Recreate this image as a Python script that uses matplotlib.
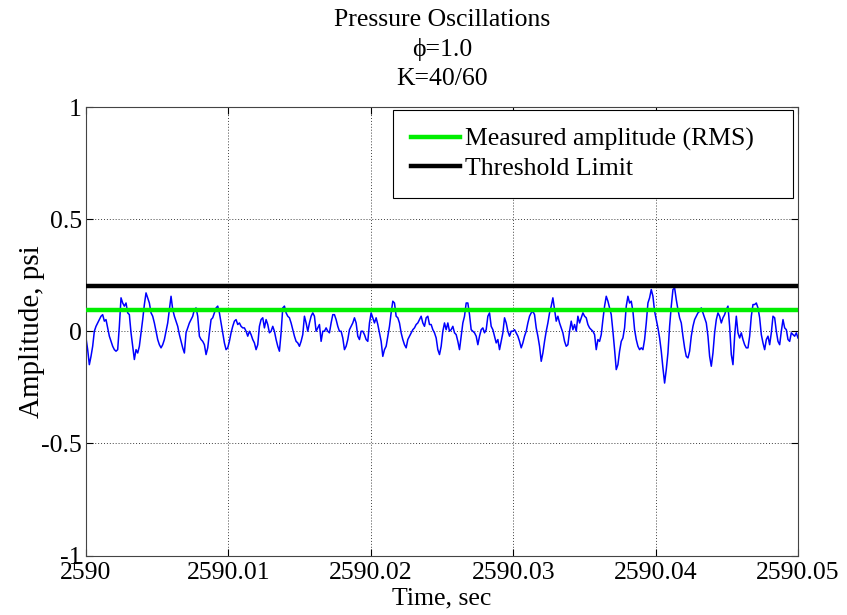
import numpy as np
import matplotlib
matplotlib.use("Agg")
import matplotlib.pyplot as plt

plt.rcParams['font.family'] = ['Liberation Serif', 'DejaVu Serif']
plt.rcParams['mathtext.fontset'] = 'stix'

# Pressure signal (psi), in six consecutive segments
seg1 = [-0.030, -0.082, -0.149, -0.112, -0.067, 0.000, 0.022, 0.037, 0.052, 0.067,
        0.074, 0.045, 0.052, 0.015, -0.022, -0.045, -0.067, -0.082, -0.089, -0.082,
        0.022, 0.149, 0.126, 0.112, 0.126, 0.082, 0.074, -0.007, -0.067, -0.126,
        -0.082, -0.097, -0.067, -0.007, 0.052, 0.119, 0.171, 0.149, 0.126, 0.082,
        0.067, 0.037, 0.000, -0.037, -0.060, -0.074, -0.060, -0.037, 0.000, 0.037,
        0.097, 0.156, 0.097, 0.067, 0.045, 0.022, -0.015, -0.045, -0.074, -0.097,
        -0.007, 0.015, 0.037, 0.052, 0.067, 0.097, 0.104, 0.067, -0.022, -0.037,
        -0.045]
seg2 = [-0.060, -0.104, -0.074, -0.007, 0.052, 0.060, 0.082, 0.104, 0.112, 0.082,
        0.037, -0.007, -0.052, -0.082, -0.074, -0.045, -0.007, 0.022, 0.045, 0.052,
        0.030, 0.037, 0.022, 0.015, 0.015, 0.000, -0.022, 0.000, -0.015, -0.037,
        -0.052, -0.082, -0.060, 0.022, 0.052, 0.060, 0.015, 0.052, 0.030, -0.007,
        0.000, 0.022, 0.000, -0.037, -0.067, -0.089, -0.007, 0.104, 0.112, 0.082,
        0.067, 0.060, 0.037, 0.007, -0.022, -0.045, -0.052, -0.067, -0.045, -0.015,
        0.067, 0.037, 0.000, 0.037, 0.067, 0.082, 0.067, 0.000, 0.015, 0.030,
        -0.045, 0.000]
seg3 = [0.000, 0.015, 0.000, -0.007, 0.037, 0.074, 0.074, 0.052, 0.022, 0.000,
        0.000, -0.030, -0.082, -0.067, -0.037, 0.007, 0.022, 0.037, 0.060, 0.037,
        -0.022, -0.037, 0.000, 0.000, -0.015, -0.037, -0.045, 0.037, 0.082, 0.060,
        0.037, 0.060, 0.030, -0.007, -0.045, -0.112, -0.082, -0.067, -0.022, 0.022,
        0.082, 0.134, 0.126, 0.067, 0.060, 0.037, -0.007, -0.037, -0.060, -0.074,
        -0.037, -0.022, -0.007, 0.007, 0.015, 0.030, 0.037, 0.052, 0.067, 0.037,
        0.022, 0.060, 0.067, 0.030, 0.030, 0.007, -0.007, -0.030, -0.082, -0.104,
        -0.067, 0.000]
seg4 = [0.037, 0.007, 0.037, 0.000, 0.007, 0.022, -0.007, -0.015, -0.045, -0.082,
        -0.022, 0.037, 0.067, 0.126, 0.126, 0.074, 0.007, 0.000, -0.007, -0.022,
        -0.060, -0.022, 0.007, 0.015, -0.007, 0.007, 0.067, 0.082, 0.022, 0.007,
        -0.022, -0.052, -0.037, -0.082, -0.045, -0.007, 0.060, 0.037, 0.000, -0.022,
        0.000, 0.000, 0.007, -0.007, -0.022, -0.045, -0.074, -0.052, -0.022, 0.000,
        0.037, 0.067, 0.082, 0.089, 0.074, 0.015, -0.022, -0.067, -0.134, -0.097,
        -0.045, 0.000, 0.037, 0.082, 0.112, 0.149, 0.097, 0.045, 0.067, 0.037,
        0.015, -0.007]
seg5 = [-0.045, -0.067, -0.060, 0.000, 0.045, 0.007, 0.030, 0.000, 0.067, 0.037,
        0.060, 0.082, 0.067, 0.060, 0.030, 0.015, 0.007, 0.000, -0.015, -0.082,
        -0.037, -0.045, -0.015, 0.052, 0.112, 0.156, 0.134, 0.104, 0.074, 0.000,
        -0.082, -0.171, -0.149, -0.089, -0.045, -0.030, 0.015, 0.112, 0.156, 0.126,
        0.134, 0.089, 0.007, -0.037, -0.067, -0.082, -0.074, -0.082, -0.037, 0.037,
        0.126, 0.149, 0.186, 0.156, 0.089, 0.052, 0.015, -0.030, -0.089, -0.164,
        -0.231, -0.171, -0.097, 0.022, 0.112, 0.186, 0.193, 0.141, 0.097, 0.060,
        0.037, -0.022]
seg6 = [-0.074, -0.112, -0.119, -0.089, -0.022, 0.022, 0.052, 0.067, 0.082, 0.089,
        0.104, 0.082, 0.060, 0.037, -0.022, -0.112, -0.156, -0.097, -0.007, 0.052,
        0.082, 0.067, 0.037, 0.060, 0.074, 0.097, 0.112, 0.022, -0.104, -0.149,
        -0.022, 0.067, -0.007, -0.030, -0.007, -0.037, -0.060, -0.074, -0.074, -0.022,
        0.067, 0.119, 0.119, 0.126, 0.104, 0.060, -0.015, -0.052, -0.082, -0.037,
        -0.022, -0.060, -0.007, 0.067, 0.060, 0.000, -0.045, -0.060, 0.000, 0.052,
        0.015, 0.007, -0.037, -0.045, -0.007, -0.015, -0.022, -0.007, -0.030]

amplitude = np.array(seg1 + seg2 + seg3 + seg4 + seg5 + seg6)
t_start, t_end = 2590.0, 2590.05
time = np.linspace(t_start, t_end, len(amplitude))

rms_level = 0.095
threshold_level = 0.2

xticks = [2590, 2590.01, 2590.02, 2590.03, 2590.04, 2590.05]
xticklabels = ['2590', '2590.01', '2590.02', '2590.03', '2590.04', '2590.05']
yticks = [-1, -0.5, 0, 0.5, 1]
yticklabels = ['-1', '-0.5', '0', '0.5', '1']

FS = 18.5

fig = plt.figure(figsize=(8.47, 6.15), dpi=100)
ax = fig.add_axes([86 / 847, 1 - 555.5 / 615, (798 - 86) / 847, (555.5 - 107) / 615])

ax.plot(time, amplitude, color='#0000ff', lw=1.1, zorder=2)
l1, = ax.plot([t_start, t_end], [rms_level, rms_level], color='#00ee00', lw=3.2,
              label='Measured amplitude (RMS)', zorder=3)
l2, = ax.plot([t_start, t_end], [threshold_level, threshold_level], color='black',
              lw=3.2, label='Threshold Limit', zorder=3)

ax.set_xlim(t_start, t_end)
ax.set_ylim(-1, 1)
ax.set_xticks(xticks)
ax.set_xticklabels(xticklabels)
ax.set_yticks(yticks)
ax.set_yticklabels(yticklabels)
ax.tick_params(direction='in', length=5, width=0.8, labelsize=FS, top=True, right=True)
ax.tick_params(axis='x', pad=5)
ax.tick_params(axis='y', pad=3)
ax.grid(True, linestyle=(0, (1, 2)), color='#404040', lw=0.7)
for s in ax.spines.values():
    s.set_linewidth(0.8)
    s.set_color('#444444')

ax.set_xlabel('Time, sec', fontsize=FS, labelpad=2.5)
ax.set_ylabel('Amplitude, psi', fontsize=21, labelpad=-3)
ax.set_title('Pressure Oscillations\n\u03d5=1.0\nK=40/60', fontsize=FS,
             linespacing=1.42, pad=15.5)

leg = ax.legend(handles=[l1, l2], loc='upper left', fontsize=FS, fancybox=False,
                framealpha=1, edgecolor='black',
                bbox_to_anchor=(0.431, 0.80, 0.562, 0.1933), mode='expand',
                borderaxespad=0.0, handlelength=1.9, borderpad=0.7,
                labelspacing=0.22, handletextpad=0.2)
leg.get_frame().set_linewidth(0.8)
leg.set_zorder(5)

fig.savefig('out.png', dpi=100)
